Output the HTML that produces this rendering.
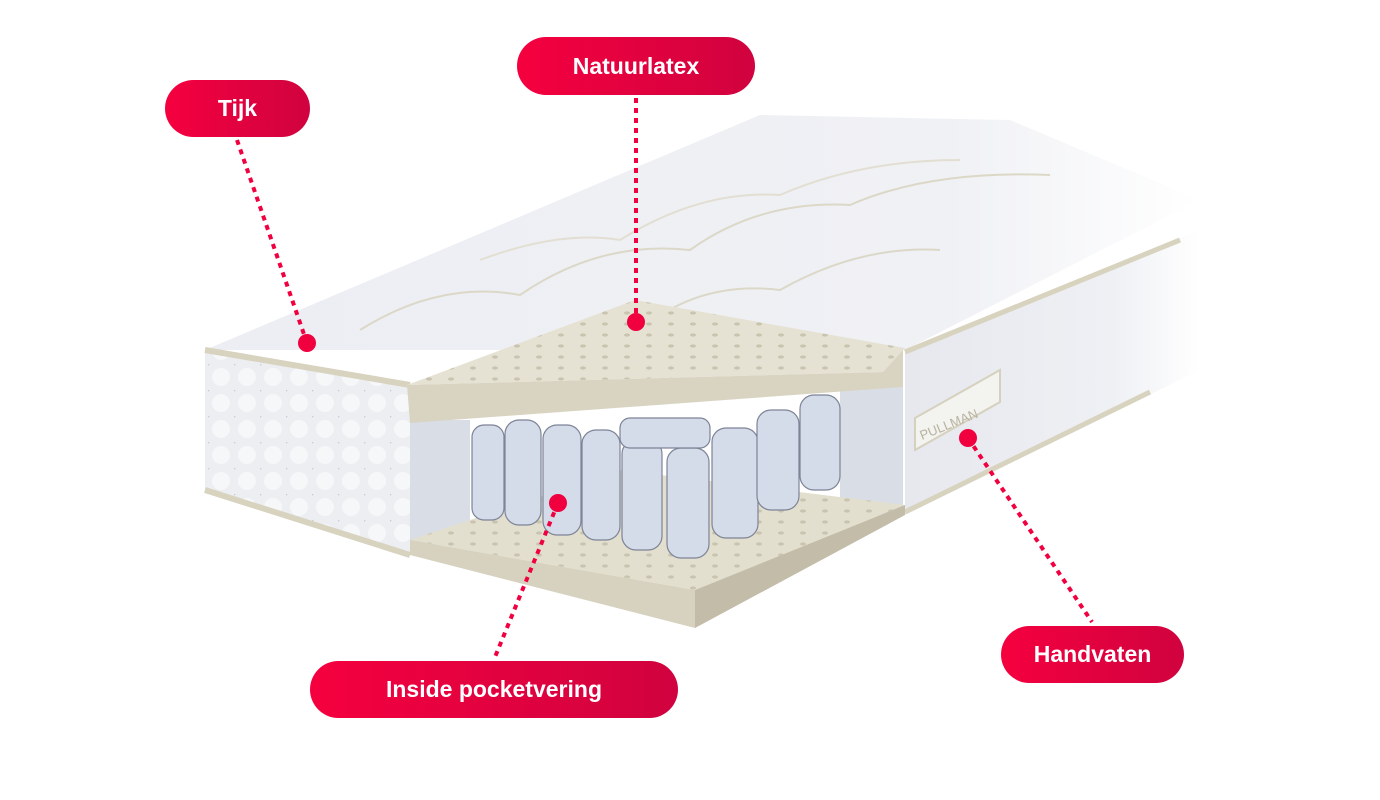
<!DOCTYPE html>
<html><head><meta charset="utf-8"><style>
html,body{margin:0;padding:0;background:#fff;}
body{width:1380px;height:800px;position:relative;overflow:hidden;font-family:"Liberation Sans",sans-serif;}
.pill{position:absolute;border-radius:30px;background:linear-gradient(90deg,#f5003f,#d0023f);color:#fff;font-weight:bold;font-size:23px;display:flex;align-items:center;justify-content:center;}
</style></head><body>
<svg width="1380" height="800" style="position:absolute;left:0;top:0">
<defs>
<linearGradient id="fade" x1="0" y1="0" x2="1" y2="0">
<stop offset="0" stop-color="#eceef3"/><stop offset="0.75" stop-color="#f0f1f5"/><stop offset="1" stop-color="#ffffff"/>
</linearGradient>
<linearGradient id="sidef" x1="0" y1="0" x2="1" y2="0">
<stop offset="0" stop-color="#e6e8ee"/><stop offset="0.7" stop-color="#eef0f4"/><stop offset="1" stop-color="#ffffff"/>
</linearGradient>
<pattern id="holes" width="22" height="11" patternUnits="userSpaceOnUse">
<ellipse cx="11" cy="5" rx="3" ry="1.6" fill="#c9c4b0"/>
</pattern>
<pattern id="quilt" width="26" height="26" patternUnits="userSpaceOnUse">
<circle cx="13" cy="13" r="9" fill="#f6f7f9"/><circle cx="0" cy="0" r="1.5" fill="#c8ccd6"/>
</pattern>
</defs>
<polygon points="205,350 760,115 1010,120 1200,200 905,350" fill="url(#fade)"/>
<path d="M360,330 Q440,280 520,295 Q600,240 690,250 Q760,200 850,205 Q930,170 1050,175" stroke="#dcd8c8" fill="none" stroke-width="2"/>
<path d="M480,260 Q560,230 620,240 Q700,190 780,195 Q860,160 960,160" stroke="#e2dfd2" fill="none" stroke-width="2"/>
<path d="M640,330 Q700,280 780,290 Q860,245 940,250" stroke="#dcd8c8" fill="none" stroke-width="2"/>
<polygon points="205,350 410,385 410,555 205,490" fill="#eceef2"/>
<polygon points="205,350 410,385 410,555 205,490" fill="url(#quilt)"/>
<polyline points="205,350 410,385" stroke="#d8d3bf" stroke-width="6" fill="none"/>
<polyline points="205,490 410,555" stroke="#d8d3bf" stroke-width="6" fill="none"/>
<polygon points="905,350 1200,230 1200,370 905,515" fill="url(#sidef)"/>
<polyline points="905,352 1180,240" stroke="#d8d3bf" stroke-width="5" fill="none"/>
<polyline points="905,512 1150,392" stroke="#d8d3bf" stroke-width="5" fill="none"/>
<polygon points="915,418 1000,370 1000,402 915,450" fill="#f3f3ef" stroke="#d6d1bf" stroke-width="2"/>
<text x="922" y="440" font-size="13" fill="#b8b2a0" transform="rotate(-22 922 440)">PULLMAN</text>
<polygon points="410,420 470,420 470,540 410,550" fill="#d9dde6"/>
<polygon points="840,388 903,387 903,515 840,512" fill="#d9dde6"/>
<polygon points="410,540 620,470 905,505 695,590" fill="#e3dfcf"/>
<polygon points="410,540 620,470 905,505 695,590" fill="url(#holes)"/>
<polygon points="410,540 695,590 695,628 410,555" fill="#d7d2bf"/>
<polygon points="695,590 905,505 905,515 695,628" fill="#c2bca8"/>
<g fill="#d4dbe9" stroke="#7d8496" stroke-width="1.2">
<rect x="472" y="425" width="32" height="95" rx="12"/>
<rect x="505" y="420" width="36" height="105" rx="14"/>
<rect x="543" y="425" width="38" height="110" rx="14"/>
<rect x="582" y="430" width="38" height="110" rx="14"/>
<rect x="622" y="440" width="40" height="110" rx="14"/>
<rect x="667" y="448" width="42" height="110" rx="14"/>
<rect x="712" y="428" width="46" height="110" rx="14"/>
<rect x="757" y="410" width="42" height="100" rx="14"/>
<rect x="800" y="395" width="40" height="95" rx="14"/>
<rect x="620" y="418" width="90" height="30" rx="10"/>
</g>
<polygon points="407,385 635,300 905,348 883,372" fill="#e6e2d3"/>
<polygon points="407,385 635,300 905,348 883,372" fill="url(#holes)"/>
<polygon points="407,385 883,372 903,350 903,387 410,423" fill="#d9d4c2"/>
</svg>
<svg width="1380" height="800" style="position:absolute;left:0;top:0">
<g stroke="#f0003f" stroke-width="4" stroke-dasharray="5 5" fill="none">
<line x1="237" y1="140" x2="307" y2="343"/>
<line x1="636" y1="98" x2="636" y2="322"/>
<line x1="968" y1="438" x2="1092" y2="622"/>
<line x1="558" y1="503" x2="495" y2="657"/>
</g>
<g fill="#f0003f">
<circle cx="307" cy="343" r="9"/><circle cx="636" cy="322" r="9"/><circle cx="968" cy="438" r="9"/><circle cx="558" cy="503" r="9"/>
</g>
</svg>
<div class="pill" style="left:165px;top:80px;width:145px;height:57px;">Tijk</div>
<div class="pill" style="left:517px;top:37px;width:238px;height:58px;">Natuurlatex</div>
<div class="pill" style="left:1001px;top:626px;width:183px;height:57px;">Handvaten</div>
<div class="pill" style="left:310px;top:661px;width:368px;height:57px;">Inside pocketvering</div>
</body></html>
